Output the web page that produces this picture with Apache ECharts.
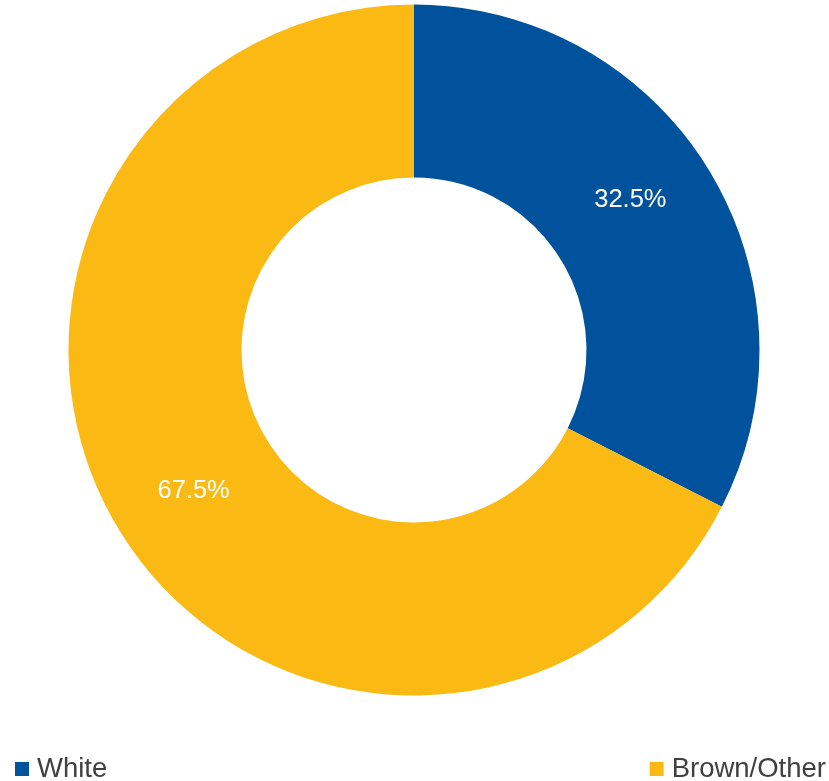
<!DOCTYPE html>
<html>
<head>
<meta charset="utf-8">
<script src="https://cdn.jsdelivr.net/npm/echarts@6/dist/echarts.min.js"></script>
<style>html,body{margin:0;padding:0;background:#fff}#c{width:829px;height:781px}</style>
</head>
<body>
<div id="c"></div>
<script>
const categories = ['White', 'Brown/Other'];
const values = [32.5, 67.5];
const colors = ['#01529c', '#fbb913'];

const chart = echarts.init(document.getElementById('c'), null, {renderer: 'canvas'});
const legendText = {fontFamily: 'Liberation Sans, Arial, sans-serif', fontSize: 27.5, color: '#404040', padding: [0, 0, 0, 3]};
const labelShift = [[-7, -13], [3, 4]];
chart.setOption({
  animation: false,
  color: colors,
  legend: [
    {data: [categories[0]], left: 15, top: 755, icon: 'rect', itemWidth: 14, itemHeight: 14, itemGap: 7, textStyle: legendText, padding: 0},
    {data: [categories[1]], right: 3, top: 755, icon: 'rect', itemWidth: 14, itemHeight: 14, itemGap: 7, textStyle: legendText, padding: 0}
  ],
  series: [{
    type: 'pie',
    center: [414, 350],
    radius: [172.5, 345.5],
    startAngle: 90,
    clockwise: true,
    avoidLabelOverlap: false,
    label: {
      show: true,
      position: 'inside',
      formatter: p => p.value.toFixed(1) + '%',
      color: '#ffffff',
      fontSize: 25.5,
      fontFamily: 'Liberation Sans, Arial, sans-serif'
    },
    labelLine: {show: false},
    emphasis: {disabled: true},
    itemStyle: {borderWidth: 0},
    data: categories.map((c, i) => ({name: c, value: values[i], label: {offset: labelShift[i]}}))
  }]
});
</script>
</body>
</html>
